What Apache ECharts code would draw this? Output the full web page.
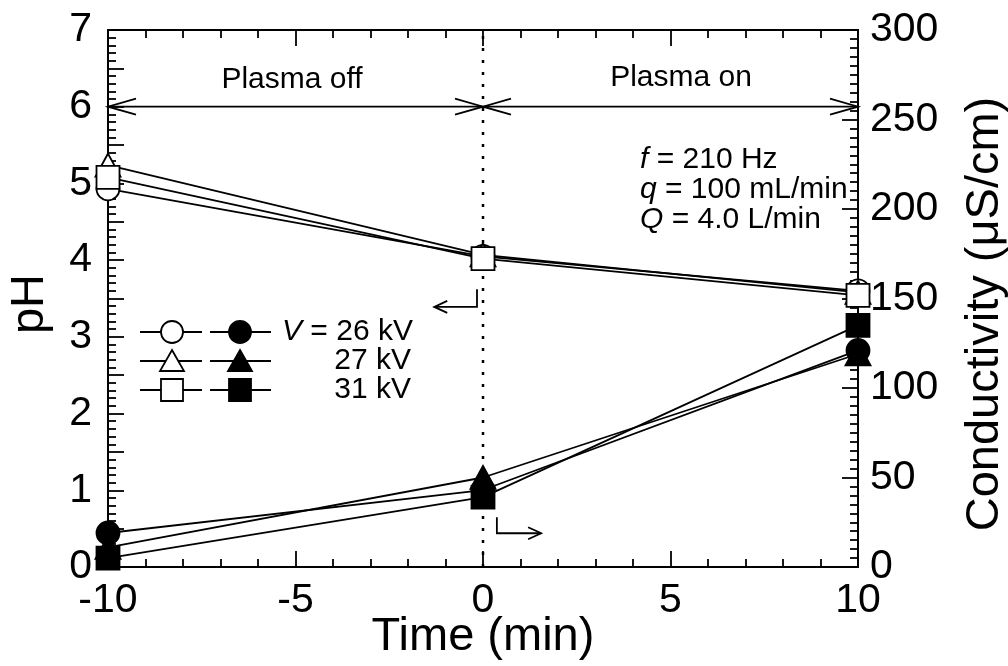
<!DOCTYPE html>
<html>
<head>
<meta charset="utf-8">
<script src="https://cdn.jsdelivr.net/npm/echarts@6/dist/echarts.min.js"></script>
<style>
html, body { margin: 0; padding: 0; background: #fff; }
#chart { width: 1008px; height: 666px; }
</style>
</head>
<body>
<div id="chart"></div>
<script>
// values
const time = [-10, 0, 10]
const ph26 = [4.93, 4.05, 3.60]
const ph27 = [5.24, 4.07, 3.58]
const ph31 = [5.08, 4.02, 3.54]
const cond26 = [19, 43, 121]
const cond27 = [11, 50, 119]
const cond31 = [5, 39, 135]

// annotation anchors (data units)
const arrowPH = 6
const phases = [[-10, 0], [0, 10]]
const phAxisHint = [[-0.16, 3.62], [-0.16, 3.39], [-1.3, 3.39]]
const condAxisHint = [[0.37, 0.65], [0.37, 0.44], [1.55, 0.44]]

const font = 'Liberation Sans, Arial, sans-serif'
const chart = echarts.init(document.getElementById('chart'))

function pts(ys) {
  return time.map((t, i) => [t, ys[i]])
}

function mkSeries(name, symbol, ys, filled, yIdx) {
  return {
    name: name,
    type: 'line',
    yAxisIndex: yIdx,
    data: pts(ys),
    symbol: symbol,
    symbolSize: symbol === 'triangle' ? [25, 23] : 23,
    showAllSymbol: true,
    clip: false,
    z: filled ? 3 : 4,
    lineStyle: { color: '#000', width: 1.8 },
    itemStyle: { color: filled ? '#000' : '#fff', borderColor: '#000', borderWidth: 1.8 },
    emphasis: { disabled: true },
    animation: false
  }
}

function head(tip, dx, L, w) {
  // open "V" arrowhead pointing along dx (+1 right / -1 left)
  return [[tip[0] - dx * L, tip[1] - w], tip, [tip[0] - dx * L, tip[1] + w]]
}

const lineSt = { stroke: '#000', lineWidth: 1.8, fill: null }

function annotations(params, api) {
  const c = (x, y) => api.coord([x, y])
  const kids = []
  // dotted line at t = 0
  const a = c(0, 0), b = c(0, 7)
  kids.push({ type: 'line', shape: { x1: a[0], y1: a[1], x2: b[0], y2: b[1] },
    style: { stroke: '#000', lineWidth: 2.5, lineDash: [3, 9] } })
  // double arrows for the two phases
  phases.forEach(function (ph) {
    const p1 = c(ph[0], arrowPH), p2 = c(ph[1], arrowPH)
    kids.push({ type: 'line', shape: { x1: p1[0], y1: p1[1], x2: p2[0], y2: p2[1] }, style: lineSt })
    kids.push({ type: 'polyline', shape: { points: head(p1, -1, 28, 8) }, style: lineSt })
    kids.push({ type: 'polyline', shape: { points: head(p2, 1, 28, 8) }, style: lineSt })
  })
  // axis hints
  const h1 = phAxisHint.map(p => c(p[0], p[1]))
  kids.push({ type: 'polyline', shape: { points: h1 }, style: lineSt })
  kids.push({ type: 'polyline', shape: { points: head(h1[2], -1, 13, 6) }, style: lineSt })
  const h2 = condAxisHint.map(p => c(p[0], p[1]))
  kids.push({ type: 'polyline', shape: { points: h2 }, style: lineSt })
  kids.push({ type: 'polyline', shape: { points: head(h2[2], 1, 13, 6) }, style: lineSt })
  return { type: 'group', children: kids }
}

// legend drawn by hand
const legendRows = [
  { y: 332, shape: 'circle', label: '{i|V} = 26 kV', x: 282, align: 'left' },
  { y: 361, shape: 'triangle', label: '27 kV', x: 411, align: 'right' },
  { y: 390, shape: 'rect', label: '31 kV', x: 411, align: 'right' }
]

function legendMarker(shape, cx, cy, filled) {
  const st = { fill: filled ? '#000' : '#fff', stroke: '#000', lineWidth: 1.8 }
  if (shape === 'circle') return { type: 'circle', shape: { cx: cx, cy: cy, r: 11 }, style: st, z: 10 }
  if (shape === 'triangle') return { type: 'polygon', shape: { points: [[cx, cy - 11], [cx + 12, cy + 10], [cx - 12, cy + 10]] }, style: st, z: 10 }
  return { type: 'rect', shape: { x: cx - 11, y: cy - 11, width: 22, height: 22 }, style: st, z: 10 }
}

const graphics = []
legendRows.forEach(function (r) {
  graphics.push({ type: 'line', shape: { x1: 140, y1: r.y, x2: 202, y2: r.y }, style: { stroke: '#000', lineWidth: 1.8 }, z: 9 })
  graphics.push({ type: 'line', shape: { x1: 210, y1: r.y, x2: 271, y2: r.y }, style: { stroke: '#000', lineWidth: 1.8 }, z: 9 })
  graphics.push(legendMarker(r.shape, 172, r.y, false))
  graphics.push(legendMarker(r.shape, 240, r.y, true))
  graphics.push({ type: 'text', x: r.x, y: r.y, z: 10, style: {
    text: r.label, fill: '#000', font: '30px ' + font, textAlign: r.align, textVerticalAlign: 'middle',
    rich: { i: { font: 'italic 30px ' + font } } } })
})

const notes = [
  { x: 292, y: 80, text: 'Plasma off', align: 'center' },
  { x: 681, y: 78, text: 'Plasma on', align: 'center' },
  { x: 640, y: 160, text: '{i|f} = 210 Hz', align: 'left' },
  { x: 640, y: 190, text: '{i|q} = 100 mL/min', align: 'left' },
  { x: 640, y: 220, text: '{i|Q} = 4.0 L/min', align: 'left' }
]
notes.forEach(function (n) {
  graphics.push({ type: 'text', x: n.x, y: n.y, z: 10, style: {
    text: n.text, fill: '#000', font: '30px ' + font, textAlign: n.align, textVerticalAlign: 'middle',
    rich: { i: { font: 'italic 30px ' + font } } } })
})

// axis titles
const titles = [
  { x: 483, y: 637, rot: 0, text: 'Time (min)' },
  { x: 30, y: 304, rot: Math.PI / 2, text: 'pH' },
  { x: 985, y: 314, rot: Math.PI / 2, text: 'Conductivity (\u03bcS/cm)' }
]
titles.forEach(function (t) {
  graphics.push({ type: 'text', x: t.x, y: t.y, rotation: t.rot, z: 10, style: {
    text: t.text, fill: '#000', font: '47px ' + font, textAlign: 'center', textVerticalAlign: 'middle' } })
})

const tickLbl = { color: '#000', fontSize: 41, fontFamily: font }
const axLine = { show: true, onZero: false, lineStyle: { color: '#000', width: 2 } }
const tick = { inside: true, length: 16, lineStyle: { color: '#000', width: 1.8 } }
const minor = (n) => ({ show: true, splitNumber: n, length: 8, lineStyle: { color: '#000', width: 1.8 } })

chart.setOption({
  animation: false,
  backgroundColor: '#fff',
  grid: { left: 108, right: 150, top: 30, bottom: 99, containLabel: false, outerBoundsMode: 'none' },
  xAxis: [
    {
      type: 'value', min: -10, max: 10, interval: 5,
      axisLine: axLine, axisTick: tick, minorTick: minor(5),
      splitLine: { show: false },
      axisLabel: Object.assign({ margin: 13 }, tickLbl)
    },
    {
      type: 'value', position: 'top', min: -10, max: 10, interval: 5,
      axisLine: axLine, axisTick: tick, minorTick: minor(5),
      splitLine: { show: false },
      axisLabel: { show: false }
    }
  ],
  yAxis: [
    {
      type: 'value', position: 'left', min: 0, max: 7, interval: 0.5,
      axisLine: axLine, axisTick: tick, minorTick: minor(5),
      splitLine: { show: false },
      axisLabel: Object.assign({ margin: 16, formatter: v => (Number.isInteger(v) ? String(v) : '') }, tickLbl)
    },
    {
      type: 'value', position: 'right', min: 0, max: 300, interval: 50,
      axisLine: axLine, axisTick: tick, minorTick: minor(10),
      splitLine: { show: false },
      axisLabel: Object.assign({ margin: 12 }, tickLbl)
    }
  ],
  series: [
    mkSeries('cond26', 'circle', cond26, true, 1),
    mkSeries('cond27', 'triangle', cond27, true, 1),
    mkSeries('cond31', 'rect', cond31, true, 1),
    mkSeries('ph26', 'circle', ph26, false, 0),
    mkSeries('ph27', 'triangle', ph27, false, 0),
    mkSeries('ph31', 'rect', ph31, false, 0),
    {
      type: 'custom', renderItem: annotations, data: [[0, 0]], clip: false, silent: true, z: 2,
      xAxisIndex: 0, yAxisIndex: 0
    }
  ],
  graphic: graphics
})
</script>
</body>
</html>
